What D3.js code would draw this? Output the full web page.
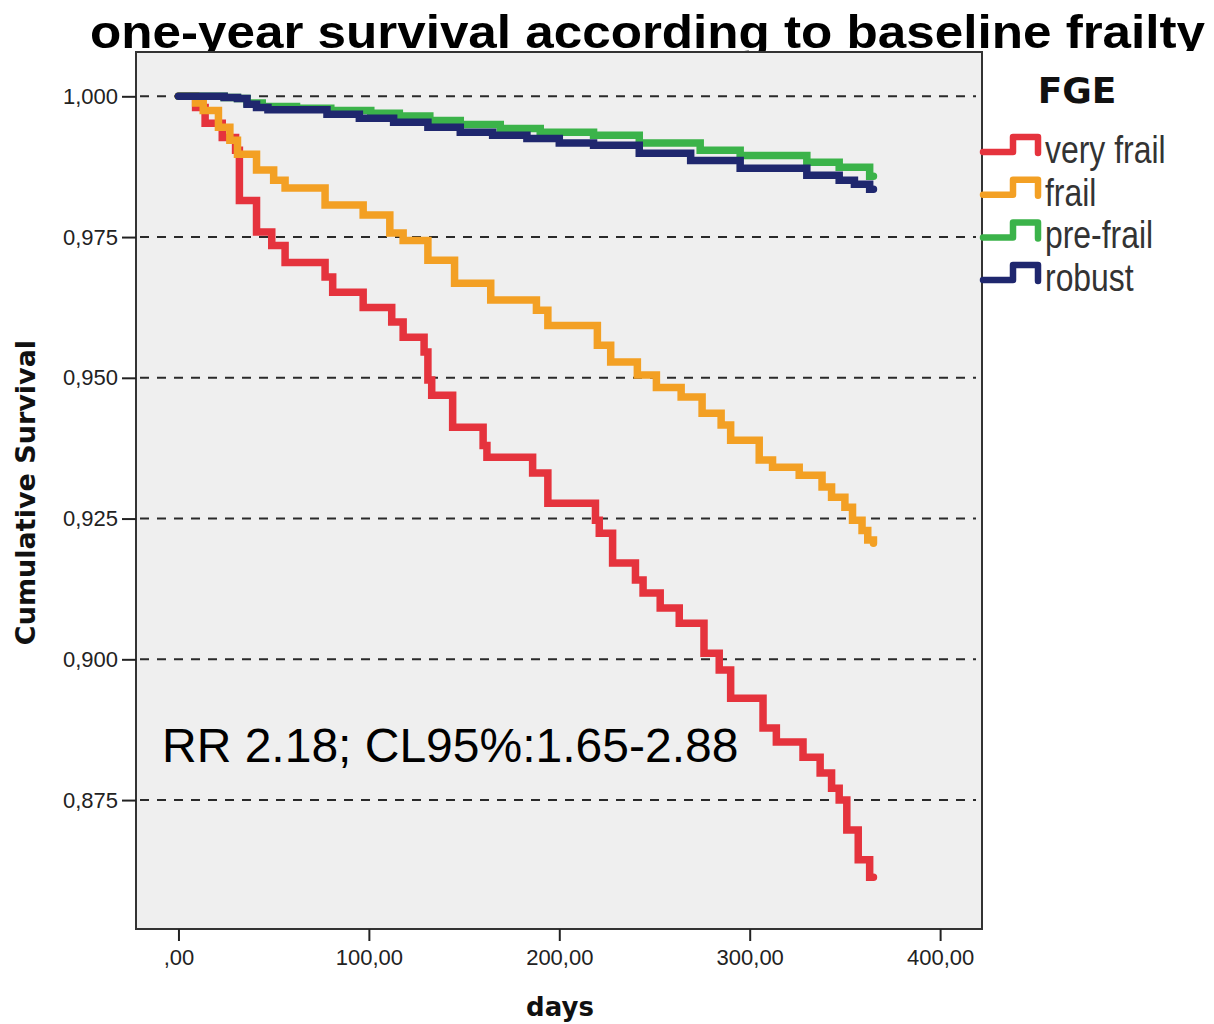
<!DOCTYPE html>
<html><head><meta charset="utf-8">
<script src="https://cdn.jsdelivr.net/npm/d3@7"></script>
<style>body{margin:0;background:#fff;} svg{display:block;}</style>
</head><body>
<svg id="chart" width="1214" height="1024"></svg>
<script>
// ---------- data ----------
const seriesNames = ["very frail", "frail", "pre-frail", "robust"];
const seriesColors = ["#e5333d", "#f3a024", "#3bb34a", "#1f276e"];

// [day, cumulative survival]
const veryFrail = [[0,1],[9,0.9980],[14,0.9952],[23,0.9927],[30,0.9904],[32,0.9815],[41,0.9759],[49,0.9735],[56,0.9705],[77,0.9679],[81,0.9652],[97,0.9625],[112,0.9599],[118,0.9572],[129,0.9546],[131,0.9496],[133,0.9469],[144,0.9412],[160,0.9380],[162,0.9359],[186,0.9331],[194,0.9277],[219,0.9247],[221,0.9224],[228,0.9171],[240,0.9141],[244,0.9118],[253,0.9091],[263,0.9064],[276,0.9011],[284,0.8981],[290,0.8931],[307,0.8878],[314,0.8853],[328,0.8826],[337,0.8798],[343,0.8771],[347,0.8750],[351,0.8697],[357,0.8644],[363,0.8613],[365,0.8613]];
const frail = [[0,1],[9,0.9988],[13,0.9975],[21,0.9945],[27,0.9922],[31,0.9897],[41,0.9869],[50,0.9851],[56,0.9837],[77,0.9807],[97,0.9789],[111,0.9757],[118,0.9744],[131,0.9709],[145,0.9668],[164,0.9638],[188,0.9620],[194,0.9593],[220,0.9558],[227,0.9528],[241,0.9505],[251,0.9483],[264,0.9466],[275,0.9437],[285,0.9416],[290,0.9389],[305,0.9354],[312,0.9341],[326,0.9327],[338,0.9306],[343,0.9288],[350,0.9270],[354,0.9247],[359,0.9229],[362,0.9212],[365,0.9206]];
const preFrail = [[0,1],[24,0.9998],[31,0.9996],[36,0.9988],[44,0.9982],[62,0.9979],[80,0.9975],[101,0.9970],[116,0.9965],[132,0.9957],[148,0.9950],[169,0.9943],[190,0.9936],[218,0.9931],[242,0.9917],[274,0.9904],[295,0.9895],[330,0.9883],[347,0.9874],[363,0.9858],[365,0.9858]];
const robust = [[0,1],[24,0.9998],[31,0.9996],[36,0.9986],[41,0.9980],[47,0.9976],[78,0.9968],[95,0.9961],[113,0.9954],[131,0.9945],[148,0.9936],[165,0.9931],[183,0.9925],[200,0.9917],[218,0.9913],[242,0.9899],[269,0.9886],[295,0.9872],[330,0.9860],[347,0.9851],[355,0.9844],[363,0.9835],[365,0.9835]];

const yTicks = [0.875, 0.900, 0.925, 0.950, 0.975, 1.000];
const yTickLabels = ["0,875", "0,900", "0,925", "0,950", "0,975", "1,000"];
const xTicks = [0, 100, 200, 300, 400];
const xTickLabels = [",00", "100,00", "200,00", "300,00", "400,00"];

const titleText = "one-year survival according to baseline frailty";
const legendTitle = "FGE";
const xTitle = "days";
const yTitle = "Cumulative Survival";
const annotation = "RR 2.18; CL95%:1.65-2.88";

// ---------- layout ----------
const series = [veryFrail, frail, preFrail, robust];
const plot = {left: 136, right: 982, top: 52, bottom: 929};
const x = d3.scaleLinear().domain([-22.3, 422]).range([plot.left, plot.right]);
const y = d3.scaleLinear().domain([0.8521, 1.00787]).range([plot.bottom, plot.top]);

const svg = d3.select("#chart");

// title, clipped at plot top
svg.append("clipPath").attr("id", "titleClip")
  .append("rect").attr("x", 0).attr("y", 0).attr("width", 1214).attr("height", plot.top - 1);
svg.append("text")
  .attr("clip-path", "url(#titleClip)")
  .attr("x", 90).attr("y", 48)
  .attr("textLength", 1115).attr("lengthAdjust", "spacingAndGlyphs")
  .style("font-family", "'Liberation Sans', Arial, sans-serif")
  .style("font-weight", "bold").style("font-size", "46px").attr("fill", "#000")
  .text(titleText);

// plot background
svg.append("rect")
  .attr("x", plot.left).attr("y", plot.top)
  .attr("width", plot.right - plot.left).attr("height", plot.bottom - plot.top)
  .attr("fill", "#efefef");

// gridlines
svg.append("g").selectAll("line").data(yTicks).join("line")
  .attr("x1", plot.left + 4).attr("x2", plot.right - 6)
  .attr("y1", d => y(d)).attr("y2", d => y(d))
  .attr("stroke", "#2a2a2a").attr("stroke-width", 2)
  .attr("stroke-dasharray", "9,8");

// survival curves
const line = d3.line().x(d => x(d[0])).y(d => y(d[1])).curve(d3.curveStepAfter);
svg.append("g").selectAll("path").data(series).join("path")
  .attr("d", line)
  .attr("fill", "none")
  .attr("stroke", (d, i) => seriesColors[i])
  .attr("stroke-width", 7.5)
  .attr("stroke-linejoin", "miter")
  .attr("stroke-linecap", "round");

// frame
svg.append("rect")
  .attr("x", plot.left).attr("y", plot.top)
  .attr("width", plot.right - plot.left).attr("height", plot.bottom - plot.top)
  .attr("fill", "none").attr("stroke", "#333").attr("stroke-width", 2);

// axes
const tickFont = "'Liberation Sans', Arial, sans-serif";
const yAxis = svg.append("g").attr("transform", `translate(${plot.left},0)`)
  .call(d3.axisLeft(y).tickValues(yTicks).tickFormat((d, i) => yTickLabels[i]).tickSize(14).tickPadding(4));
yAxis.select(".domain").remove();
yAxis.selectAll(".tick line").attr("stroke", "#222").attr("stroke-width", 2);
yAxis.selectAll(".tick text").style("font-family", tickFont).style("font-size", "22px").attr("fill", "#222");

const xAxis = svg.append("g").attr("transform", `translate(0,${plot.bottom})`)
  .call(d3.axisBottom(x).tickValues(xTicks).tickFormat((d, i) => xTickLabels[i]).tickSize(12).tickPadding(8));
xAxis.select(".domain").remove();
xAxis.selectAll(".tick line").attr("stroke", "#222").attr("stroke-width", 2);
xAxis.selectAll(".tick text").style("font-family", tickFont).style("font-size", "22px").attr("fill", "#222");

// axis titles
svg.append("text")
  .attr("x", (plot.left + plot.right) / 2 + 1).attr("y", 1016)
  .attr("text-anchor", "middle")
  .style("font-family", "'DejaVu Sans', sans-serif").style("font-weight", "bold").style("font-size", "26px")
  .attr("fill", "#111").text(xTitle);
svg.append("text")
  .attr("transform", `translate(35,${(plot.top + plot.bottom) / 2 + 2}) rotate(-90)`)
  .attr("text-anchor", "middle")
  .style("font-family", "'DejaVu Sans', sans-serif").style("font-weight", "bold").style("font-size", "27px")
  .attr("fill", "#111").text(yTitle);

// annotation
svg.append("text")
  .attr("x", 162).attr("y", 762)
  .style("font-family", "'Liberation Sans', Arial, sans-serif").style("font-size", "48px")
  .attr("fill", "#000").text(annotation);

// legend
svg.append("text")
  .attr("x", 1077).attr("y", 103).attr("text-anchor", "middle")
  .style("font-family", "'DejaVu Sans', sans-serif").style("font-weight", "bold").style("font-size", "36px")
  .attr("fill", "#111").text(legendTitle);

const legend = svg.append("g").selectAll("g").data(seriesNames).join("g")
  .attr("transform", (d, i) => `translate(0,${163 + i * 42.7})`);
legend.append("path")
  .attr("d", "M983,-11H1013V-26H1038V-10")
  .attr("fill", "none")
  .attr("stroke", (d, i) => seriesColors[i])
  .attr("stroke-width", 6.5)
  .attr("stroke-linejoin", "round").attr("stroke-linecap", "round");
legend.append("text")
  .attr("transform", "translate(1045,0) scale(0.84,1)")
  .style("font-family", "'Liberation Sans', Arial, sans-serif").style("font-size", "38px")
  .attr("fill", "#333").text(d => d);
</script>
</body></html>
